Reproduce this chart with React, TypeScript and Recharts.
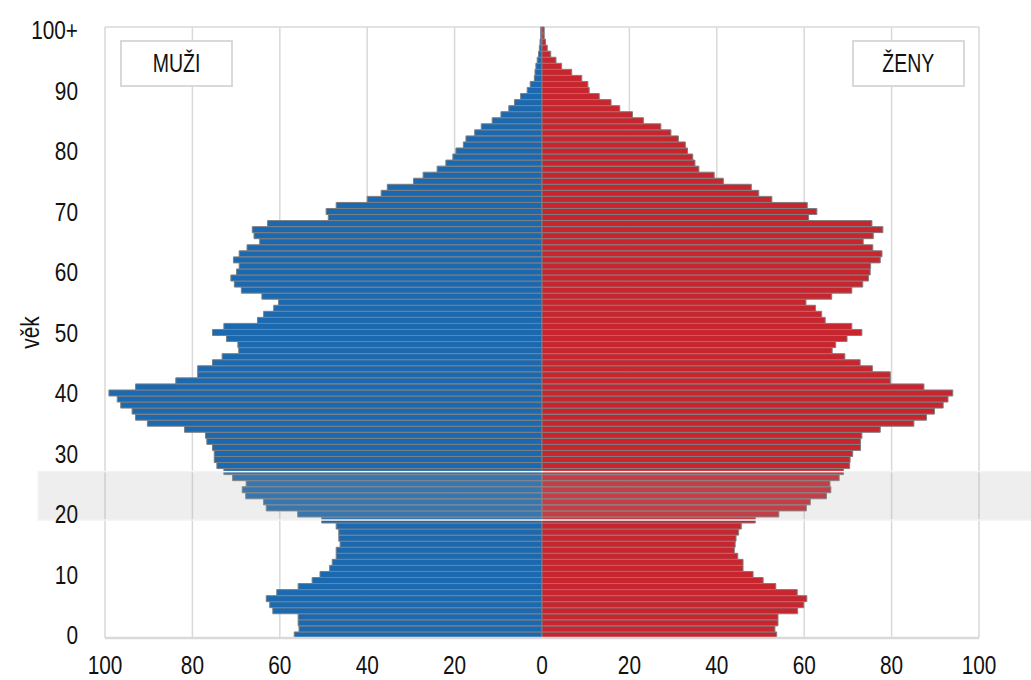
import React from 'react';
import { BarChart, Bar, XAxis, YAxis, CartesianGrid, ReferenceArea } from 'recharts';

const AGE_LABELS = [
  '0', '1', '2', '3', '4', '5', '6', '7', '8', '9',
  '10', '11', '12', '13', '14', '15', '16', '17', '18', '19',
  '20', '21', '22', '23', '24', '25', '26', '27', '28', '29',
  '30', '31', '32', '33', '34', '35', '36', '37', '38', '39',
  '40', '41', '42', '43', '44', '45', '46', '47', '48', '49',
  '50', '51', '52', '53', '54', '55', '56', '57', '58', '59',
  '60', '61', '62', '63', '64', '65', '66', '67', '68', '69',
  '70', '71', '72', '73', '74', '75', '76', '77', '78', '79',
  '80', '81', '82', '83', '84', '85', '86', '87', '88', '89',
  '90', '91', '92', '93', '94', '95', '96', '97', '98', '99',
  '100+',
];

// thousands, index = age
const MALE = [
  56.7, 55.6, 55.8, 55.8, 61.6, 62.3, 63.1, 60.7, 55.8, 52.6,
  50.8, 48.6, 48.0, 47.1, 47.1, 46.2, 46.5, 46.5, 47.1, 50.4,
  55.9, 63.1, 63.7, 67.8, 68.6, 67.7, 70.8, 72.8, 74.4, 75.0,
  75.0, 75.4, 76.7, 77.0, 81.8, 90.3, 93.0, 93.8, 96.4, 97.2,
  99.1, 93.0, 83.8, 78.8, 78.8, 75.4, 73.2, 69.4, 69.6, 72.2,
  75.4, 72.8, 65.1, 63.7, 61.4, 60.3, 64.1, 68.8, 70.4, 71.2,
  69.9, 69.3, 70.6, 69.3, 67.5, 64.6, 65.9, 66.3, 62.8, 48.9,
  49.4, 47.1, 40.0, 36.8, 35.4, 29.4, 27.2, 24.0, 22.0, 20.4,
  19.7, 18.0, 17.4, 15.4, 13.9, 11.4, 9.4, 7.6, 6.3, 4.9,
  3.4, 2.7, 1.75, 1.6, 1.4, 1.1, 0.8, 0.6, 0.45, 0.3,
  0.3,
];

const FEMALE = [
  53.7, 53.3, 54.0, 54.0, 58.5, 59.9, 60.6, 58.4, 53.5, 50.6,
  48.3, 46.0, 46.0, 44.8, 44.0, 44.2, 44.4, 45.0, 45.6, 48.8,
  54.2, 60.5, 61.4, 65.1, 66.1, 65.9, 68.0, 69.0, 70.4, 70.5,
  71.1, 72.9, 72.9, 73.2, 77.4, 85.1, 88.0, 89.8, 91.8, 92.9,
  94.0, 87.4, 79.7, 79.7, 75.6, 72.8, 69.3, 66.4, 67.2, 69.8,
  73.2, 70.9, 64.8, 64.0, 62.6, 60.4, 66.3, 70.9, 73.4, 74.7,
  75.1, 75.2, 77.4, 77.8, 75.7, 73.5, 75.8, 78.0, 75.5, 61.0,
  62.9, 60.7, 52.6, 49.6, 47.9, 41.5, 39.4, 35.9, 35.0, 34.5,
  33.3, 32.8, 31.2, 29.5, 27.2, 23.2, 20.7, 17.8, 15.8, 13.1,
  10.8, 10.5, 9.1, 6.8, 4.5, 3.2, 2.0, 1.2, 0.8, 0.5,
  0.5,
];

const X_TICKS = [-100, -80, -60, -40, -20, 0, 20, 40, 60, 80, 100];
const HIGHLIGHT_AGES = ['19', '27'];
const LEFT_TITLE = 'MUŽI';
const RIGHT_TITLE = 'ŽENY';
const AXIS_TITLE = 'věk';

const data = AGE_LABELS.map((age, i) => ({ age, muzi: -MALE[i], zeny: FEMALE[i] }));

const FONT = "'Liberation Sans', Arial, sans-serif";
const NARROW = 0.8;
const BLUE = '#1b6ab1';
const RED = '#c8252f';
const EDGE = '#7f7f7f';
const GRID = '#d9d9d9';
const TEXT = '#111111';

const XTick = (p: any) => (
  <g transform={`translate(${p.x},${p.y})`}>
    <text transform={`scale(${NARROW},1)`} textAnchor="middle" dy="0.71em"
      fontSize={26} fontFamily={FONT} fill={TEXT}>
      {String(Math.abs(p.payload.value))}
    </text>
  </g>
);

const YTick = (p: any) => (
  <g transform={`translate(${p.x},${p.y})`}>
    <text transform={`scale(${NARROW},1)`} textAnchor="end" dy="0.355em"
      fontSize={26} fontFamily={FONT} fill={TEXT}>
      {p.payload.value}
    </text>
  </g>
);

const VekLabel = (props: any) => {
  const vb = props.viewBox || {};
  const cx = (vb.x || 0) + 30;
  const cy = (vb.y || 0) + (vb.height || 0) / 2;
  return (
    <g transform={`translate(${cx},${cy}) rotate(-90)`}>
      <text transform={`scale(${NARROW},1)`} textAnchor="middle" dominantBaseline="central"
        fontSize={26} fontFamily={FONT} fill={TEXT}>
        {AXIS_TITLE}
      </text>
    </g>
  );
};

// the band runs past the plot on both sides and is nudged half an age-row outward
const BandShape = (p: any) => {
  const rows = 7;
  const half = p.height / rows / 2;
  return (
    <rect x={p.x - 67} y={p.y - half} width={p.width + 67 + 60} height={p.height + 2 * half}
      fill="#a8aba8" fillOpacity={0.2} stroke="#f3f3f3" strokeWidth={1.5} />
  );
};

const boxStyle: React.CSSProperties = {
  position: 'absolute',
  top: 40,
  width: 109,
  height: 43,
  border: `2px solid ${GRID}`,
  background: '#fff',
  display: 'flex',
  alignItems: 'center',
  justifyContent: 'center',
  fontFamily: FONT,
  fontSize: 25,
  color: TEXT,
  zIndex: 2,
};

const Title = ({ children }: any) => (
  <span style={{ display: 'inline-block', transform: 'scaleX(0.78)', lineHeight: 1 }}>{children}</span>
);

export default function App() {
  return (
    <div style={{ position: 'absolute', left: 0, top: 0, width: 1031, height: 680, background: '#fff' }}>
      <BarChart
        width={1031}
        height={680}
        data={data}
        layout="vertical"
        stackOffset="sign"
        barCategoryGap={0}
        barGap={0}
        margin={{ top: 27, right: 52, bottom: 0, left: 0 }}
      >
        <CartesianGrid
          stroke={GRID}
          strokeWidth={1.5}
          horizontalCoordinatesGenerator={(p: any) => [p.offset.top]}
        />
        <XAxis
          type="number"
          domain={[-100, 100]}
          ticks={X_TICKS}
          axisLine={{ stroke: GRID, strokeWidth: 2.5 }}
          tickLine={false}
          tickSize={0}
          tickMargin={18}
          height={42}
          tick={XTick}
        />
        <YAxis
          type="category"
          dataKey="age"
          reversed
          interval={9}
          axisLine={false}
          tickLine={false}
          tickSize={0}
          tickMargin={27}
          width={105}
          tick={YTick}
          label={{ content: VekLabel }}
        />
        <Bar dataKey="muzi" stackId="p" fill={BLUE} stroke={EDGE} strokeWidth={1} isAnimationActive={false} />
        <Bar dataKey="zeny" stackId="p" fill={RED} stroke={EDGE} strokeWidth={1} isAnimationActive={false} />
        <ReferenceArea
          y1={HIGHLIGHT_AGES[0]}
          y2={HIGHLIGHT_AGES[1]}
          ifOverflow="visible"
          shape={BandShape}
          {...({ zIndex: 1000 } as any)}
        />
      </BarChart>
      <div style={{ ...boxStyle, left: 120 }}><Title>{LEFT_TITLE}</Title></div>
      <div style={{ ...boxStyle, left: 852 }}><Title>{RIGHT_TITLE}</Title></div>
    </div>
  );
}
